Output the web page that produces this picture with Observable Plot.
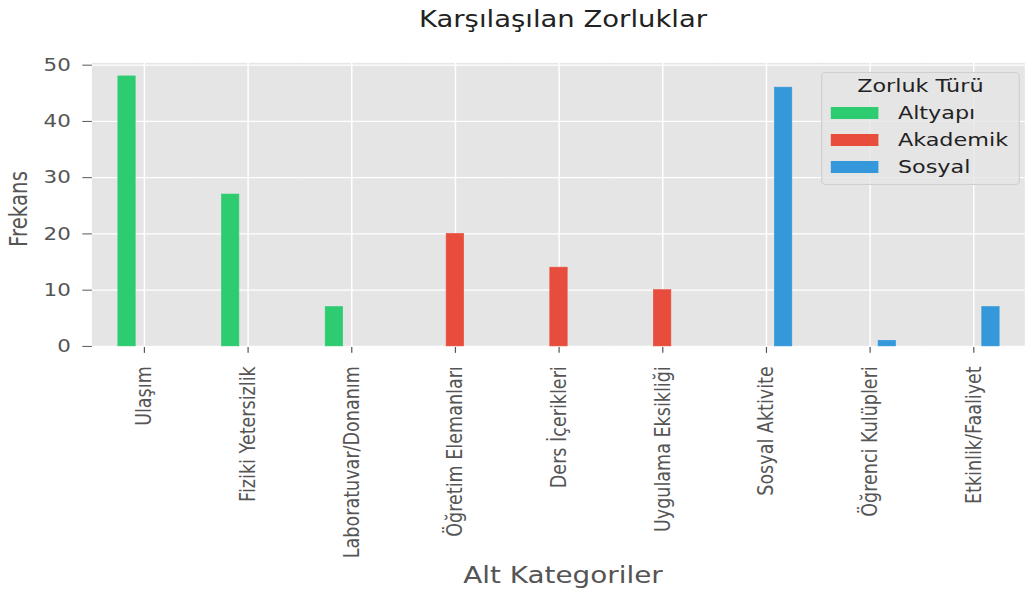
<!DOCTYPE html>
<html>
<head>
<meta charset="utf-8">
<script src="https://cdn.jsdelivr.net/npm/d3@7"></script>
<script src="https://cdn.jsdelivr.net/npm/@observablehq/plot@0.6"></script>
<style>
  html, body { margin: 0; padding: 0; background: #fff; overflow: hidden; }
  #stage { position: relative; width: 840.2px; height: 593px; transform: scaleX(1.22); transform-origin: 0 0; overflow: hidden; font-family: "DejaVu Sans", sans-serif; }
  #title { position: absolute; top: 0; left: 76px; width: 771px; height: 40px; line-height: 38px; text-align: center; font-size: 22.5px; color: #222; white-space: nowrap; }
  #chart { position: absolute; top: 40px; left: 0; }
  #xlabel { position: absolute; top: 560px; left: 76px; width: 771px; height: 33px; line-height: 30px; text-align: center; font-size: 22.8px; color: #555; white-space: nowrap; }
  #ylabel { position: absolute; left: 16.4px; top: 209px; transform: translate(-50%, -50%) rotate(-90deg); font-size: 19.8px; line-height: 1; color: #555; white-space: nowrap; }
  #legend { position: absolute; left: 672.7px; top: 71.7px; width: 163.4px; height: 113.3px; box-sizing: border-box; background: rgba(229,229,229,0.8); border: 1px solid #cfcfcf; border-radius: 4px; }
  #legend .lt { position: absolute; left: 0; top: 4.5px; width: 100%; text-align: center; font-size: 18.3px; line-height: 1; color: #222; white-space: nowrap; }
  #legend .sw { position: absolute; left: 7.6px; width: 38.8px; height: 12.3px; }
  #legend .tx { position: absolute; left: 62.3px; font-size: 18.3px; line-height: 1; color: #222; white-space: nowrap; }
</style>
</head>
<body>
<div id="stage">
  <div id="title">Karşılaşılan Zorluklar</div>
  <div id="chart"></div>
  <div id="xlabel">Alt Kategoriler</div>
  <div id="ylabel">Frekans</div>
  <div id="legend"></div>
</div>
<script>
const categories = ["Ulaşım", "Fiziki Yetersizlik", "Laboratuvar/Donanım", "Öğretim Elemanları", "Ders İçerikleri", "Uygulama Eksikliği", "Sosyal Aktivite", "Öğrenci Kulüpleri", "Etkinlik/Faaliyet"];
const categoryTypes = ["Altyapı", "Altyapı", "Altyapı", "Akademik", "Akademik", "Akademik", "Sosyal", "Sosyal", "Sosyal"];
const frequencies = [48, 27, 7, 20, 14, 10, 46, 1, 7];
const types = ["Altyapı", "Akademik", "Sosyal"];
const typeColors = ["#2ecc71", "#e74c3c", "#3498db"];
const yTicks = [0, 10, 20, 30, 40, 50];
const legendTitle = "Zorluk Türü";

const data = categories.map((c, i) => ({category: c, type: categoryTypes[i], value: frequencies[i]}));

const chart = Plot.plot({
  width: 847,
  height: 520,
  marginLeft: 76,
  marginRight: 0,
  marginTop: 22.6,
  marginBottom: 211.6,
  style: {fontFamily: "DejaVu Sans, sans-serif", fontSize: "17.7px", color: "#555", background: "none", overflow: "visible"},
  fx: {domain: categories, padding: 0, round: false, label: null, tickRotate: -90, tickSize: 7, tickPadding: 13, axis: "bottom"},
  x: {domain: types, paddingInner: 0, paddingOuter: 1.5, round: false, axis: null},
  y: {domain: [0, 50.4], ticks: yTicks, tickSize: 8, tickPadding: 10, label: null},
  color: {domain: types, range: typeColors},
  marks: [
    Plot.frame({fill: "#e5e5e5", stroke: null, insetLeft: -0.6, insetRight: -0.6}),
    Plot.gridY(yTicks, {stroke: "white", strokeOpacity: 1, strokeWidth: 1.3}),
    Plot.ruleX([types[1]], {x: d => d, stroke: "white", strokeWidth: 1.2}),
    Plot.barY(data, {fx: "category", x: "type", y: "value", fill: "type", stroke: "type", strokeWidth: 0.6})
  ]
});
document.getElementById("chart").appendChild(chart);

const legend = document.getElementById("legend");
const lt = document.createElement("div");
lt.className = "lt";
lt.textContent = legendTitle;
legend.appendChild(lt);
types.forEach((t, i) => {
  const sw = document.createElement("div");
  sw.className = "sw";
  sw.style.top = (34.3 + 27 * i) + "px";
  sw.style.background = typeColors[i];
  legend.appendChild(sw);
  const tx = document.createElement("div");
  tx.className = "tx";
  tx.style.top = (31.1 + 27 * i) + "px";
  tx.textContent = t;
  legend.appendChild(tx);
});
</script>
</body>
</html>
